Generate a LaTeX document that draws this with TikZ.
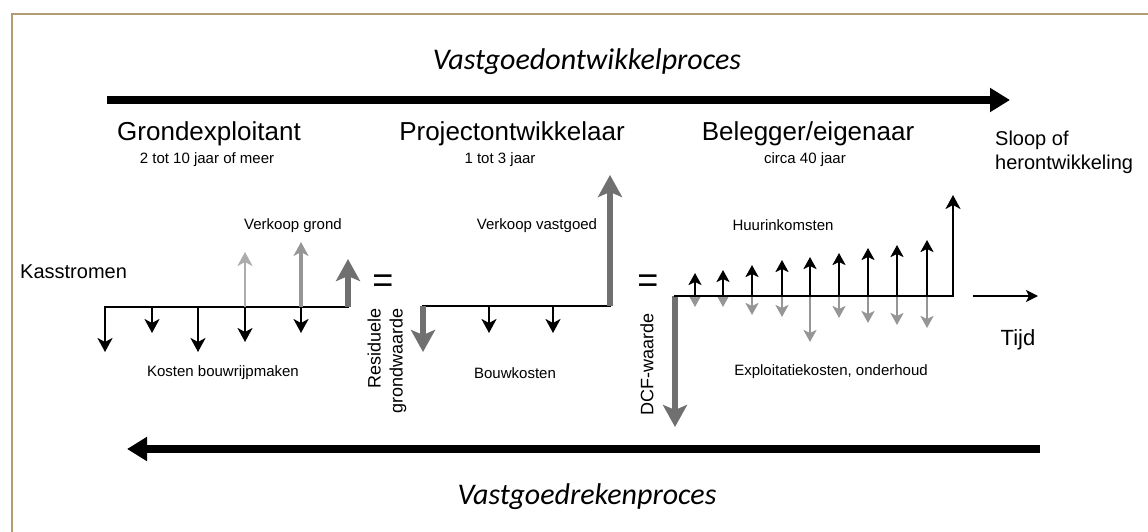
\documentclass[tikz,border=0pt]{standalone}
\usepackage{fontspec}
\setmainfont{Liberation Sans}
\newfontfamily\procfont{Carlito}
\usetikzlibrary{positioning, arrows.meta}

\definecolor{framebrown}{RGB}{178,156,112}
\definecolor{flowdark}{RGB}{112,112,112}
\definecolor{flowmid}{RGB}{150,150,150}
\definecolor{flowlight}{RGB}{172,172,172}

\tikzset{
  proc/.style={line width=8pt, -{Triangle[length=20pt,width=23pt]}},
  axis/.style={line width=2.5pt, line cap=rect},
  cash/.style={line width=2.5pt, ->},
  bigcash/.style={line width=6pt, flowdark, -{Stealth[length=22pt,width=24pt,inset=5pt]}},
  head/.style={inner sep=0, anchor=base, font=\fontsize{26}{30}\selectfont},
  sub/.style={inner sep=0, anchor=base, font=\fontsize{15}{18}\selectfont},
  lbl/.style={inner sep=0, font=\fontsize{15}{18}\selectfont},
  side/.style={inner sep=0, font=\fontsize{20}{24}\selectfont},
  eq/.style={inner sep=0, font=\fontsize{36}{40}\selectfont},
  vert/.style={inner sep=0, rotate=90, anchor=east, align=right, font=\fontsize{18}{22}\selectfont},
  title/.style={inner sep=0, font=\procfont\itshape\fontsize{30}{36}\selectfont},
}

\begin{document}
\begin{tikzpicture}[x=1pt, y=-1pt, >={Stealth[length=14pt,width=15pt,inset=4pt]}]
  \useasboundingbox (0,0) rectangle (1148,532);
  \draw[framebrown, line width=2.5pt] (12,532) -- (12,14) -- (1148,14);

  % processen
  \node[title] (ontw) at (587,62) {Vastgoedontwikkelproces};
  \coordinate (ontwA) at (107,100);
  \coordinate (ontwB) at (1010,100);
  \draw[proc] (ontwA) -- (ontwB);
  \coordinate (rekA) at (1040,449);
  \coordinate (rekB) at (127,449);
  \draw[proc] (rekA) -- (rekB);
  \node[title] (rek) at (587,497) {Vastgoedrekenproces};

  % partijen
  \node[head] (grond) at (209,141) {Grondexploitant};
  \node[sub] (grondT) at (207,164) {2 tot 10 jaar of meer};
  \node[head] (proj) at (512,141) {Projectontwikkelaar};
  \node[sub] (projT) at (500,164) {1 tot 3 jaar};
  \node[head] (beleg) at (808,141) {Belegger/eigenaar};
  \node[side, anchor=north west, align=left] (sloop) at (995,131) {Sloop of\\herontwikkeling};
  \node[sub] (belegT) at (805,164) {circa 40 jaar};

  % grondexploitatie
  \node[side, anchor=west] (kas) at (20,272) {Kasstromen};
  \coordinate (g0) at (105,307);
  \coordinate (g1) at (348,307);
  \coordinate (g0t) at (105,352);
  \draw[cash, line cap=rect] (g1) -- (g0) -- (g0t);
  \foreach \x/\t in {152/333, 198/352, 245/342, 301/333} {
    \coordinate (ga\x) at (\x,307);
    \coordinate (gb\x) at (\x,\t);
    \draw[cash] (ga\x) -- (gb\x);
  }
  \coordinate (gu1) at (245,252);
  \coordinate (gu2) at (301,242);
  \coordinate (gu3) at (348,259);
  \draw[cash, flowlight] (ga245) -- (gu1);
  \draw[cash, flowmid, line width=3.5pt] (ga301) -- (gu2);
  \draw[bigcash] (g1) -- (gu3);
  \node[lbl] (vkgrond) at (293,226) {Verkoop grond};
  \node[lbl] (kosten) at (223,373) {Kosten bouwrijpmaken};
  \node[eq] (eq1) at (383,284) {=};
  \node[vert] (resid) at (387,308) {Residuele\\grondwaarde};

  % projectontwikkeling
  \coordinate (p0) at (423,306);
  \coordinate (p1) at (610,306);
  \coordinate (p0t) at (423,352);
  \coordinate (p1t) at (610,175);
  \draw[axis] (p0) -- (p1);
  \draw[bigcash] (p0) -- (p0t);
  \draw[bigcash] (p1) -- (p1t);
  \foreach \x in {489, 553} {
    \coordinate (pa\x) at (\x,306);
    \coordinate (pb\x) at (\x,333);
    \draw[cash] (pa\x) -- (pb\x);
  }
  \node[lbl] (vkvast) at (537,226) {Verkoop vastgoed};
  \node[lbl] (bouw) at (515,373) {Bouwkosten};
  \node[eq] (eq2) at (648,284) {=};
  \node[vert] (dcf) at (647,313) {DCF-waarde};

  % belegging
  \coordinate (b0) at (675,296);
  \coordinate (b1) at (953,296);
  \coordinate (b0t) at (675,427);
  \coordinate (b1t) at (953,195);
  \draw[bigcash] (b0) -- (b0t);
  \foreach \x/\d in {695/307, 723/307, 752/315, 782/317, 810/342, 839/318, 868/323, 897/325, 927/328} {
    \coordinate (ba\x) at (\x,296);
    \coordinate (bd\x) at (\x,\d);
    \draw[cash, flowmid, >={Stealth[length=12pt,width=13pt,inset=3pt]}] (ba\x) -- (bd\x);
  }
  \draw[cash, line cap=rect] (b0) -- (b1) -- (b1t);
  \foreach \x/\u in {695/273, 723/270, 752/265, 782/260, 810/257, 839/253, 868/248, 897/245, 927/240} {
    \coordinate (bu\x) at (\x,\u);
    \draw[cash, >={Stealth[length=12pt,width=13pt,inset=3pt]}] (ba\x) -- (bu\x);
  }
  \node[lbl] (huur) at (783,225) {Huurinkomsten};
  \node[lbl] (expl) at (831,372) {Exploitatiekosten, onderhoud};

  % tijd
  \coordinate (t0) at (973,296);
  \coordinate (t1) at (1038,296);
  \draw[cash, >={Stealth[length=12pt,width=12pt,inset=3pt]}] (t0) -- (t1);
  \node[inner sep=0, font=\fontsize{22}{26}\selectfont] (tijd) at (1018,340) {Tijd};
\end{tikzpicture}
\end{document}
